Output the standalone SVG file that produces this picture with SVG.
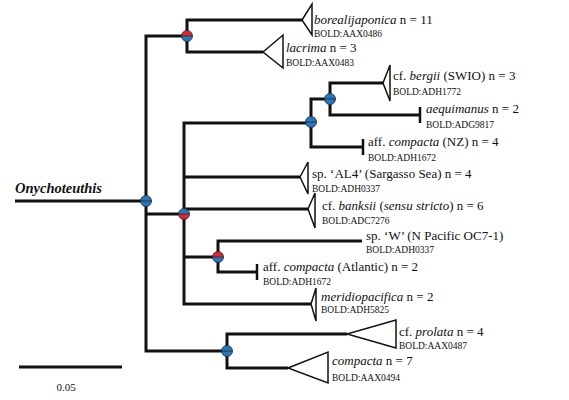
<svg xmlns="http://www.w3.org/2000/svg" width="569" height="400" viewBox="0 0 569 400">
<style>
.br{fill:none;stroke:#111;stroke-width:3;stroke-linejoin:miter;stroke-linecap:butt}
.tk{stroke:#111;stroke-width:2.5}
.tri{fill:#fff;stroke:#111;stroke-width:1.5;stroke-linejoin:miter}
.lb{font-size:13px;fill:#111}
.bd{font-size:9.5px;fill:#111}
.it{font-style:italic}
.ci{stroke:#1a2a3a;stroke-width:0.8}
.blue{fill:#2b76b8}
.red{fill:#e5232b}
</style>
<rect width="569" height="400" fill="#fff"/>
<g id="connectors">
<path class="br" d="M15,201 H146"/>
<path class="br" d="M187,36 H146 V351 H227"/>
<path class="br" d="M146,214 H184"/>
<path class="br" d="M302,20 H187 V52 H263"/>
<path class="br" d="M311,123 H184 V304 H311"/>
<path class="br" d="M184,177 H300"/>
<path class="br" d="M184,209 H308"/>
<path class="br" d="M184,257 H218"/>
<path class="br" d="M362,241 H218 V272 H257"/>
<path class="br" d="M330,99 H311 V147 H363"/>
<path class="br" d="M383,83 H330 V115 H420"/>
<path class="br" d="M347,334 H227 V368 H288"/>
<line class="tk" x1="257" y1="264" x2="257" y2="280"/>
<line class="tk" x1="363" y1="139" x2="363" y2="155"/>
<line class="tk" x1="420" y1="107" x2="420" y2="123"/>
</g>
<g font-family="'Liberation Serif', serif">
<g id="root"><text class="lb it" x="15" y="193" font-weight="bold" style="font-size:14.5px">Onychoteuthis</text></g>
<g id="t-borealijaponica"><polygon class="tri" points="302,20 312,4 312,35"/><text class="lb" x="314" y="24"><tspan class="it">borealijaponica</tspan> n = 11</text><text class="bd" x="314" y="37">BOLD:AAX0486</text></g>
<g id="t-lacrima"><polygon class="tri" points="263,52 283,35 283,68"/><text class="lb" x="286" y="52"><tspan class="it">lacrima</tspan> n = 3</text><text class="bd" x="286" y="66">BOLD:AAX0483</text></g>
<g id="t-bergii"><polygon class="tri" points="383,83 390,65 390,101"/><text class="lb" x="393" y="80">cf. <tspan class="it">bergii</tspan> (SWIO) n = 3</text><text class="bd" x="393" y="95">BOLD:ADH1772</text></g>
<g id="t-aequimanus"><text class="lb" x="426" y="113"><tspan class="it">aequimanus</tspan> n = 2</text><text class="bd" x="426" y="128">BOLD:ADG9817</text></g>
<g id="t-compactaNZ"><text class="lb" x="368" y="146">aff. <tspan class="it">compacta</tspan> (NZ) n = 4</text><text class="bd" x="368" y="161">BOLD:ADH1672</text></g>
<g id="t-AL4"><polygon class="tri" points="300,177 308,162 308,194"/><text class="lb" x="312" y="178">sp. ‘AL4’ (Sargasso Sea)  n = 4</text><text class="bd" x="312" y="192">BOLD:ADH0337</text></g>
<g id="t-banksii"><polygon class="tri" points="308,209 315,193 315,228"/><text class="lb" x="322" y="210">cf. <tspan class="it">banksii</tspan> (<tspan class="it">sensu stricto</tspan>) n = 6</text><text class="bd" x="322" y="224">BOLD:ADC7276</text></g>
<g id="t-W"><text class="lb" x="366" y="240">sp. ‘W’ (N Pacific OC7-1)</text><text class="bd" x="366" y="253">BOLD:ADH0337</text></g>
<g id="t-compactaAtl"><text class="lb" x="263" y="271">aff. <tspan class="it">compacta</tspan> (Atlantic) n = 2</text><text class="bd" x="263" y="285">BOLD:ADH1672</text></g>
<g id="t-meridiopacifica"><polygon class="tri" points="311,304 316,288 316,321"/><text class="lb" x="321" y="301"><tspan class="it">meridiopacifica</tspan> n = 2</text><text class="bd" x="321" y="313">BOLD:ADH5825</text></g>
<g id="t-prolata"><polygon class="tri" points="347,334 396,320 396,348"/><text class="lb" x="399" y="336">cf. <tspan class="it">prolata</tspan> n = 4</text><text class="bd" x="399" y="349">BOLD:AAX0487</text></g>
<g id="t-compacta"><polygon class="tri" points="288,368 328,352 328,383"/><text class="lb" x="332" y="365"><tspan class="it">compacta</tspan> n = 7</text><text class="bd" x="332" y="381">BOLD:AAX0494</text></g>
<g id="scale"><line x1="19" y1="367" x2="122" y2="367" stroke="#111" stroke-width="3"/><text class="bd" x="66" y="391" text-anchor="middle" style="font-size:11px">0.05</text></g>
</g>
<g id="n-root"><path class="blue" d="M140.5,201 a5.5,5.5 0 0 1 11,0 z"/><path class="blue" d="M140.5,201 a5.5,5.5 0 0 0 11,0 z"/><circle class="ci" cx="146" cy="201" r="5.5" fill="none"/><line class="ci" x1="140.5" y1="201" x2="151.5" y2="201"/></g>
<g id="n1"><path class="red" d="M181.5,36 a5.5,5.5 0 0 1 11,0 z"/><path class="blue" d="M181.5,36 a5.5,5.5 0 0 0 11,0 z"/><circle class="ci" cx="187" cy="36" r="5.5" fill="none"/><line class="ci" x1="181.5" y1="36" x2="192.5" y2="36"/></g>
<g id="n2"><path class="blue" d="M178.5,214 a5.5,5.5 0 0 1 11,0 z"/><path class="red" d="M178.5,214 a5.5,5.5 0 0 0 11,0 z"/><circle class="ci" cx="184" cy="214" r="5.5" fill="none"/><line class="ci" x1="178.5" y1="214" x2="189.5" y2="214"/></g>
<g id="n3"><path class="blue" d="M305.5,122 a5.5,5.5 0 0 1 11,0 z"/><path class="blue" d="M305.5,122 a5.5,5.5 0 0 0 11,0 z"/><circle class="ci" cx="311" cy="122" r="5.5" fill="none"/><line class="ci" x1="305.5" y1="122" x2="316.5" y2="122"/></g>
<g id="n4"><path class="blue" d="M324.5,99 a5.5,5.5 0 0 1 11,0 z"/><path class="blue" d="M324.5,99 a5.5,5.5 0 0 0 11,0 z"/><circle class="ci" cx="330" cy="99" r="5.5" fill="none"/><line class="ci" x1="324.5" y1="99" x2="335.5" y2="99"/></g>
<g id="n5"><path class="red" d="M212.5,257 a5.5,5.5 0 0 1 11,0 z"/><path class="blue" d="M212.5,257 a5.5,5.5 0 0 0 11,0 z"/><circle class="ci" cx="218" cy="257" r="5.5" fill="none"/><line class="ci" x1="212.5" y1="257" x2="223.5" y2="257"/></g>
<g id="n6"><path class="blue" d="M221.5,351 a5.5,5.5 0 0 1 11,0 z"/><path class="blue" d="M221.5,351 a5.5,5.5 0 0 0 11,0 z"/><circle class="ci" cx="227" cy="351" r="5.5" fill="none"/><line class="ci" x1="221.5" y1="351" x2="232.5" y2="351"/></g>
</svg>
